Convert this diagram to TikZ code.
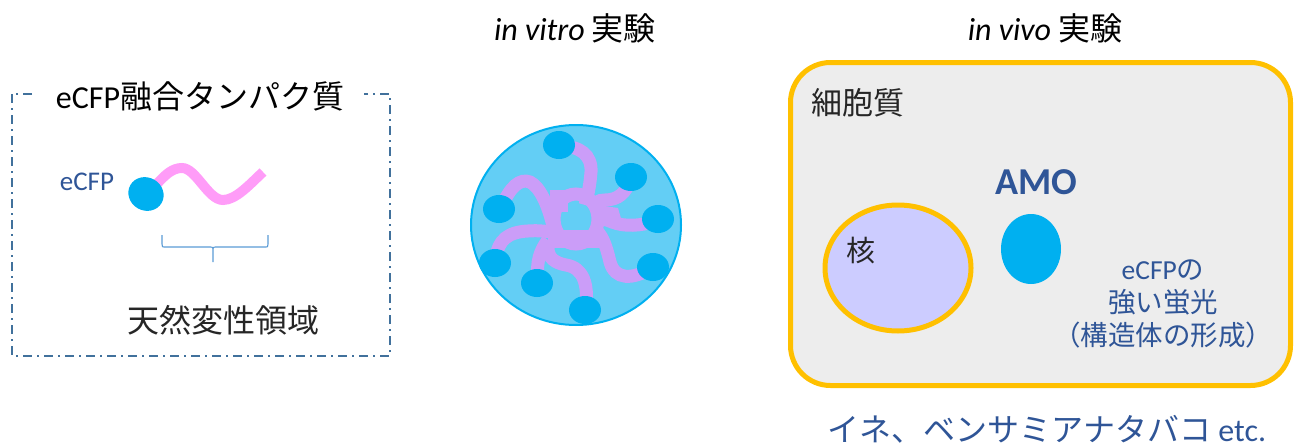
\documentclass[tikz,border=0pt]{standalone}
\usepackage{fontspec}
\setmainfont{Carlito}
\newfontfamily\jp{Noto Sans CJK JP}
\newcommand\fsz[2]{\fontsize{#1}{#2}\selectfont}
\definecolor{frameblue}{HTML}{41719C}
\definecolor{labelblue}{HTML}{2F5597}
\definecolor{cfpblue}{HTML}{00B0F0}
\definecolor{dropblue}{HTML}{63CEF5}
\definecolor{linkpink}{HTML}{FF9CF8}
\definecolor{chainpurple}{HTML}{CB9DF8}
\definecolor{bracecol}{HTML}{5B9BD5}
\definecolor{cellgold}{HTML}{FFC000}
\definecolor{cytogray}{HTML}{EDEDED}
\definecolor{nucleuslilac}{HTML}{CCCCFF}
\definecolor{darktext}{HTML}{262626}
\tikzset{
  cfp/.style={fill=cfpblue},
  chain/.style={draw=chainpurple, line width=13pt, line cap=butt},
  membrane/.style={draw=cellgold, line width=5pt},
  title/.style={font=\fsz{32}{36}},
}
\begin{document}
\begin{tikzpicture}[x=1pt,y=-1pt]
\useasboundingbox (0,0) rectangle (1310,447);

% ---------- fusion protein panel ----------
\draw[frameblue, line width=2pt, dash pattern=on 9pt off 5pt on 2pt off 5pt]
  (12,94) rectangle (390,356);
\node[fill=white, inner xsep=20pt, inner ysep=2pt, font=\fsz{32}{36}] (fusion) at (200,96)
  {eCFP{\jp 融合タンパク質}};
\node[text=labelblue, font=\fsz{27}{32}] (cfplabel) at (87,182) {eCFP};
\draw[linkpink, line width=10pt]
  (155,186) .. controls (165,175) and (172,168) .. (182,168)
  .. controls (196,168) and (208,200) .. (223,200)
  .. controls (236,200) and (250,184) .. (263,172);
\fill[cfp, rotate around={-30:(146,194)}] (146,194) ellipse [x radius=18, y radius=16.5];
\draw[bracecol, line width=1.1pt]
  (162,235) -- (162,244) .. controls (162,247) .. (166,247) -- (209,247)
  .. controls (213,247) .. (213,251) -- (213,262)
  (213,251) .. controls (213,247) .. (217,247) -- (264,247)
  .. controls (268,247) .. (268,244) -- (268,235);
\node[text=darktext, font=\fsz{32}{36}] (idr) at (223,320) {\jp 天然変性領域};

% ---------- in vitro droplet ----------
\node[title] (vitro) at (575,28) {\textit{in vitro} {\jp 実験}};
\draw[draw=cfpblue, fill=dropblue, line width=2pt] (576,225) ellipse [x radius=105, y radius=100];
\begin{scope}
  \clip (576,225) ellipse [x radius=103, y radius=98];
  % arms running from each eCFP head into the central tangle
  \draw[chain] (560,146) .. controls (580,146) and (592,155) .. (591,172)
    .. controls (590,185) and (588,195) .. (585,205);
  \draw[chain] (630,180) .. controls (626,193) and (618,200) .. (605,200)
    .. controls (598,200) and (594,203) .. (592,208);
  \draw[chain] (656,221) .. controls (640,226) and (625,227) .. (612,222)
    .. controls (605,219) and (600,218) .. (595,220);
  \draw[chain] (652,268) .. controls (632,280) and (615,280) .. (610,262)
    .. controls (606,245) and (603,238) .. (598,232);
  \draw[chain] (586,306) .. controls (588,285) and (584,268) .. (566,265)
    .. controls (555,263) and (548,258) .. (548,248);
  \draw[chain] (538,280) .. controls (536,262) and (540,250) .. (548,240);
  \draw[chain] (496,258) .. controls (498,240) and (508,232) .. (528,231)
    .. controls (540,230) and (548,232) .. (556,232);
  \draw[chain] (502,206) .. controls (510,187) and (520,178) .. (530,182)
    .. controls (540,187) and (548,205) .. (553,226);
  % central tangle
  \draw[chain] (576,219) ellipse [x radius=22, y radius=25];
  \fill[chainpurple] (550,190) rectangle (568,212);
  \fill[chainpurple] (598,205) -- (618,208) -- (622,222) -- (604,224) -- cycle;
  \fill[chainpurple] (548,230) rectangle (600,248);
\end{scope}
\foreach \px/\py in {559/145, 631/177, 658/219, 653/267, 585/310, 537/283, 495/263, 499/209}
  \fill[cfp] (\px,\py) ellipse [x radius=16, y radius=14];

% ---------- in vivo cell ----------
\node[title] (vivo) at (1045,28) {\textit{in vivo} {\jp 実験}};
\draw[membrane, fill=cytogray, rounded corners=40pt] (790.5,62.5) rectangle (1290.5,385.5);
\node[text=darktext, font=\fsz{31}{36}] (cyto) at (858,103) {\jp 細胞質};
\draw[membrane, fill=nucleuslilac] (898,268) ellipse [x radius=73, y radius=63];
\node[text=darktext, font=\fsz{29}{34}] (nucleus) at (861,251) {\jp 核};
\node[text=labelblue, font=\bfseries\fsz{38}{44}] (amo) at (1036,182) {AMO};
\fill[cfp] (1031,249) ellipse [x radius=30, y radius=35];
\node[text=labelblue, align=center, font=\fsz{27.5}{33}] (signal) at (1163,304)
  {eCFP{\jp の}\\{\jp 強い蛍光}\\{\jp （構造体の形成）}};
\node[text=labelblue, font=\fsz{32}{36}] (plants) at (1047,429)
  {{\jp イネ、ベンサミアナタバコ} etc.};
\end{tikzpicture}
\end{document}
